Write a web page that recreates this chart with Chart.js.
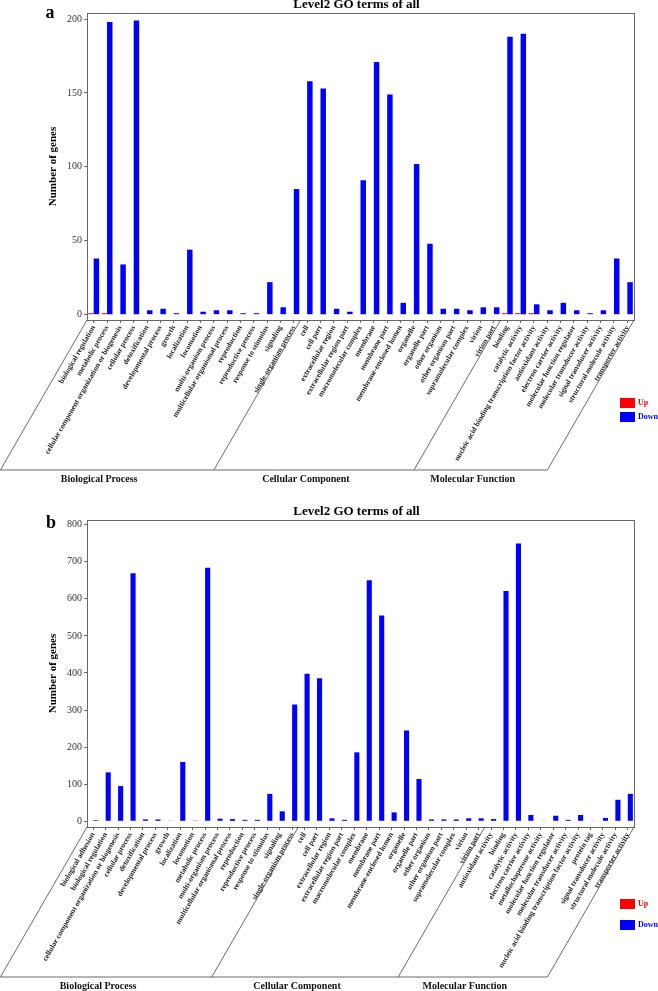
<!DOCTYPE html>
<html>
<head>
<meta charset="utf-8">
<script src="https://cdn.jsdelivr.net/npm/chart.js@4/dist/chart.umd.min.js"></script>
<style>
  html, body { margin: 0; padding: 0; background: #fff; }
  .panel { position: absolute; left: 0; width: 658px; }
  #wrapA { top: 0; height: 495px; }
  #wrapB { top: 495px; height: 496px; }
</style>
</head>
<body>
<div class="panel" id="wrapA"><canvas id="chartA" width="658" height="495"></canvas></div>
<div class="panel" id="wrapB"><canvas id="chartB" width="658" height="496"></canvas></div>
<script>
// ---- panel a data ----
const catsA = [
  "biological regulation", "metabolic process", "cellular component organization or biogenesis",
  "cellular process", "detoxification", "developmental process", "growth", "localization",
  "locomotion", "multi-organism process", "multicellular organismal process", "reproduction",
  "reproductive process", "response to stimulus", "signaling", "single-organism process",
  "cell", "cell part", "extracellular region", "extracellular region part", "macromolecular complex",
  "membrane", "membrane part", "membrane-enclosed lumen", "organelle", "organelle part",
  "other organism", "other organism part", "supramolecular complex", "virion", "virion part",
  "binding", "catalytic activity", "nucleic acid binding transcription factor activity",
  "antioxidant activity", "electron carrier activity", "molecular function regulator",
  "molecular transducer activity", "signal transducer activity", "structural molecule activity",
  "transporter activity"
];
const upA = [
  1, 1, 0, 0, 0, 0, 0, 0, 0, 0, 0, 0, 0, 0, 0, 0,
  0, 0, 0, 0, 0, 0, 0, 0, 0, 0, 0, 0, 0, 0, 0,
  1, 1, 1, 0, 0, 0, 0, 0, 0, 0
];
const downA = [
  38, 198, 34, 199, 3, 4, 1, 44, 2, 3, 3, 1, 1, 22, 5, 85,
  158, 153, 4, 2, 91, 171, 149, 8, 102, 48, 4, 4, 3, 5, 5,
  188, 190, 7, 3, 8, 3, 1, 3, 38, 22
];
const groupsA = [["Biological Process", 16], ["Cellular Component", 15], ["Molecular Function", 10]];
const yTicksA = [0, 50, 100, 150, 200];

// ---- panel b data ----
const catsB = [
  "biological adhesion", "biological regulation", "cellular component organization or biogenesis",
  "cellular process", "detoxification", "developmental process", "growth", "localization",
  "locomotion", "metabolic process", "multi-organism process", "multicellular organismal process",
  "reproduction", "reproductive process", "response to stimulus", "signaling", "single-organism process",
  "cell", "cell part", "extracellular region", "extracellular region part", "macromolecular complex",
  "membrane", "membrane part", "membrane-enclosed lumen", "organelle", "organelle part",
  "other organism", "other organism part", "supramolecular complex", "virion", "virion part",
  "antioxidant activity", "binding", "catalytic activity", "electron carrier activity",
  "metallochaperone activity", "molecular function regulator", "molecular transducer activity",
  "nucleic acid binding transcription factor activity", "protein tag", "signal transducer activity",
  "structural molecule activity", "transporter activity"
];
const upB = new Array(44).fill(0);
const downB = [
  3, 132, 95, 669, 5, 5, 1, 160, 2, 684, 7, 6, 4, 4, 74, 27, 315,
  398, 386, 8, 4, 186, 650, 555, 24, 245, 114, 5, 5, 5, 8, 8,
  6, 621, 749, 17, 1, 15, 4, 17, 1, 9, 58, 74
];
const groupsB = [["Biological Process", 17], ["Cellular Component", 15], ["Molecular Function", 12]];
const yTicksB = [0, 100, 200, 300, 400, 500, 600, 700, 800];

const SERIF = "'Liberation Serif', 'Times New Roman', serif";

// frame, titles, slanted group boxes and legend
const decor = {
  id: "decor",
  afterDraw(chart, args, o) {
    const { ctx, chartArea: a } = chart;
    const x = chart.scales.x;
    const n = chart.data.labels.length;
    ctx.save();

    ctx.strokeStyle = "#666";
    ctx.lineWidth = 1;
    ctx.strokeRect(a.left + 0.5, a.top + 0.5, a.right - a.left, a.bottom - a.top);

    ctx.fillStyle = "#000";
    ctx.textAlign = "center";
    ctx.textBaseline = "middle";
    ctx.font = "bold 13px " + SERIF;
    ctx.fillText(o.title, (a.left + a.right) / 2 - 4, a.top - 8);
    ctx.font = "bold 18px " + SERIF;
    ctx.fillText(o.letter, o.letterX, o.letterY);

    ctx.save();
    ctx.translate(53, (a.top + a.bottom) / 2);
    ctx.rotate(-Math.PI / 2);
    ctx.font = "bold 11px " + SERIF;
    ctx.fillText("Number of genes", 0, 0);
    ctx.restore();

    // group boundaries
    const bounds = [a.left];
    let idx = 0;
    o.groups.forEach(g => {
      idx += g[1];
      bounds.push(idx >= n ? a.right : (x.getPixelForValue(idx - 1) + x.getPixelForValue(idx)) / 2);
    });
    const drop = 150;
    const dx = drop / Math.tan(60 * Math.PI / 180);
    ctx.strokeStyle = "#444";
    ctx.lineWidth = 0.8;
    ctx.beginPath();
    bounds.forEach(bx => {
      ctx.moveTo(bx, a.bottom);
      ctx.lineTo(bx - dx, a.bottom + drop);
    });
    ctx.moveTo(bounds[0] - dx, a.bottom + drop);
    ctx.lineTo(bounds[bounds.length - 1] - dx, a.bottom + drop);
    ctx.stroke();

    ctx.font = "bold 10px " + SERIF;
    ctx.fillStyle = "#111";
    o.groups.forEach((g, i) => {
      const cx = (bounds[i] + bounds[i + 1]) / 2 - dx - 8;
      ctx.fillText(g[0], cx, a.bottom + drop + 9);
    });

    // legend
    const lx = a.right - 14;
    const items = [["Up", "#ff0000", o.legendY[0]], ["Down", "#0000ff", o.legendY[1]]];
    ctx.textAlign = "left";
    ctx.font = "bold 8px " + SERIF;
    items.forEach(it => {
      ctx.fillStyle = it[1];
      ctx.fillRect(lx, a.bottom + it[2], 15, 10);
      ctx.fillText(it[0], lx + 18, a.bottom + it[2] + 5);
    });
    ctx.restore();
  }
};

function makeChart(id, cats, up, down, yTicks, yMin, yMax, padTop, xHeight, extra) {
  return new Chart(document.getElementById(id), {
    type: "bar",
    data: {
      labels: cats,
      datasets: [
        { label: "Up", data: up, backgroundColor: "#ff0000", categoryPercentage: 0.82, barPercentage: 1.0 },
        { label: "Down", data: down, backgroundColor: "#0000ff", categoryPercentage: 0.82, barPercentage: 1.0 }
      ]
    },
    options: {
      responsive: false,
      animation: false,
      devicePixelRatio: 1,
      layout: { padding: { top: padTop, right: 24, left: 0, bottom: 0 } },
      plugins: {
        legend: { display: false },
        tooltip: { enabled: false },
        decor: extra
      },
      scales: {
        x: {
          grid: { display: true, drawOnChartArea: false, offset: false, tickLength: 3, color: "#666" },
          border: { color: "#666" },
          ticks: {
            autoSkip: false, minRotation: 60, maxRotation: 60, padding: 1,
            color: "#222", font: { family: SERIF, size: 7.5, weight: "bold" }
          },
          afterFit(s) { s.height = xHeight; }
        },
        y: {
          min: yMin,
          max: yMax,
          grid: { display: true, drawOnChartArea: false, tickLength: 3, color: "#666" },
          border: { color: "#666" },
          ticks: { padding: 2, color: "#333", font: { family: SERIF, size: 10 } },
          afterBuildTicks(s) { s.ticks = yTicks.map(v => ({ value: v })); },
          afterFit(s) { s.width = 87; }
        }
      }
    },
    plugins: [decor]
  });
}

makeChart("chartA", catsA, upA, downA, yTicksA, -3.6, 204.1, 13, 175, {
  title: "Level2 GO terms of all", letter: "a", letterX: 50, letterY: 13,
  groups: groupsA, legendY: [78, 92]
});
makeChart("chartB", catsB, upB, downB, yTicksB, -15.4, 812.7, 25, 164, {
  title: "Level2 GO terms of all", letter: "b", letterX: 51, letterY: 28,
  groups: groupsB, legendY: [72, 93]
});
</script>
</body>
</html>
